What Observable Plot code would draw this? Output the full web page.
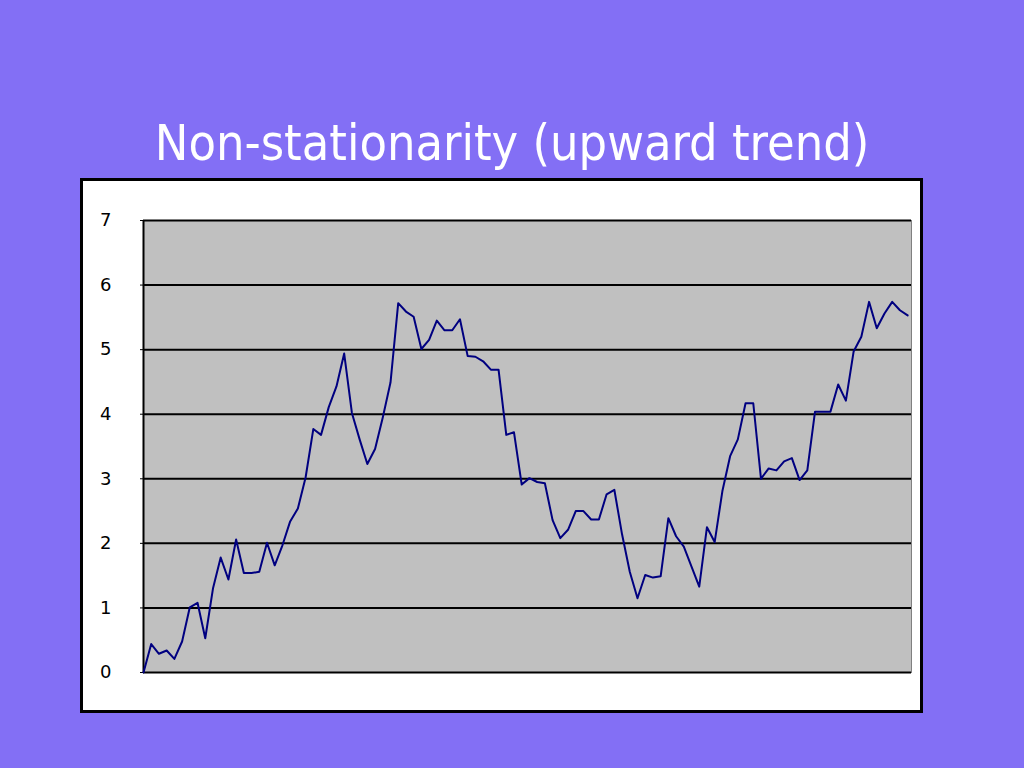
<!DOCTYPE html>
<html>
<head>
<meta charset="utf-8">
<script src="https://cdn.jsdelivr.net/npm/d3@7"></script>
<script src="https://cdn.jsdelivr.net/npm/@observablehq/plot@0.6"></script>
<style>
  html, body { margin: 0; padding: 0; }
  body { width: 1024px; height: 768px; background: #836ff5; position: relative; overflow: hidden; font-family: "DejaVu Sans", sans-serif; }
  #title { position: absolute; left: 0; width: 1024px; top: 113px; text-align: center; color: #ffffff; font-family: "DejaVu Sans Condensed", "DejaVu Sans", sans-serif; font-size: 50px; line-height: 60px; }
  #box { position: absolute; left: 80px; top: 178px; width: 837px; height: 529px; background: #ffffff; border: 3px solid #000000; }
  #box svg { display: block; }
</style>
</head>
<body>
<div id="title">Non-stationarity (upward trend)</div>
<div id="box"></div>
<script>
const values = [
  0.00, 0.44, 0.29, 0.34, 0.21, 0.48, 1.01, 1.08, 0.53, 1.30,
  1.78, 1.44, 2.06, 1.54, 1.54, 1.56, 2.01, 1.66, 1.97, 2.34,
  2.54, 3.02, 3.77, 3.68, 4.11, 4.43, 4.94, 4.02, 3.61, 3.23,
  3.46, 3.95, 4.49, 5.72, 5.59, 5.51, 5.01, 5.15, 5.45, 5.30,
  5.30, 5.47, 4.90, 4.89, 4.82, 4.69, 4.69, 3.68, 3.72, 2.91,
  3.01, 2.95, 2.93, 2.36, 2.08, 2.21, 2.50, 2.50, 2.37, 2.37,
  2.76, 2.83, 2.14, 1.56, 1.15, 1.51, 1.47, 1.49, 2.39, 2.11,
  1.95, 1.64, 1.33, 2.25, 2.02, 2.81, 3.35, 3.61, 4.17, 4.17,
  3.00, 3.16, 3.13, 3.27, 3.32, 2.98, 3.13, 4.04, 4.04, 4.04,
  4.46, 4.21, 4.97, 5.20, 5.74, 5.33, 5.56, 5.74, 5.61, 5.53
];
const yTicks = [0, 1, 2, 3, 4, 5, 6, 7];

const data = values.map((v, i) => ({t: i, v}));

const chart = Plot.plot({
  width: 837,
  height: 529,
  marginLeft: 60,
  marginTop: 39,
  marginRight: 9,
  marginBottom: 38,
  style: {background: "#ffffff", fontFamily: "'DejaVu Sans', sans-serif", fontSize: "18px", color: "#000000"},
  x: {domain: [0, 99.5], axis: null},
  y: {domain: [0, 7], ticks: yTicks},
  marks: [
    Plot.frame({fill: "#c0c0c0", stroke: "#808080", strokeWidth: 1}),
    Plot.ruleY(yTicks, {stroke: "#000000", strokeWidth: 2}),
    Plot.ruleX([0], {stroke: "#000000", strokeWidth: 2}),
    Plot.axisY({ticks: yTicks, label: null, tickSize: 3, tickPadding: 29, stroke: "#000000", fill: "#000000", fontSize: 18, tickFormat: d => String(d)}),
    Plot.line(data, {x: "t", y: "v", stroke: "#000080", strokeWidth: 2})
  ]
});
document.getElementById("box").appendChild(chart);
</script>
</body>
</html>
